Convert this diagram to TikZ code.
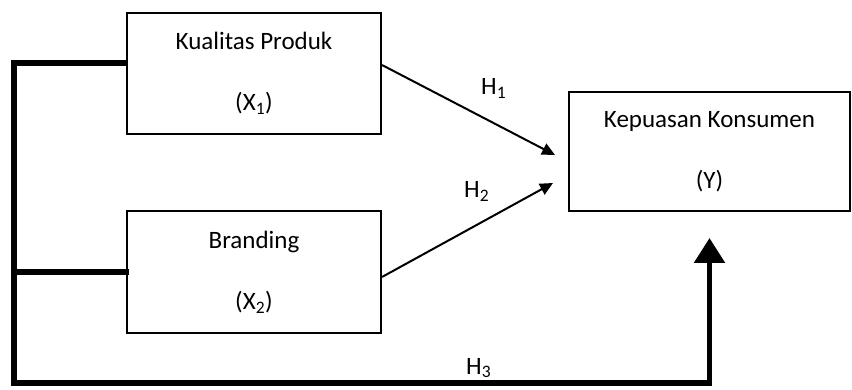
\documentclass[tikz,border=0pt]{standalone}
\usepackage{fontspec}
\setmainfont{Carlito}
\usepackage{tikz}
\usetikzlibrary{arrows.meta, positioning}

\begin{document}
\begin{tikzpicture}[
  x=1pt, y=-1pt,
  var/.style={rectangle, draw, line width=2pt, minimum width=254pt, minimum height=121pt, align=center, inner sep=0pt, font=\fontsize{25}{30}\selectfont},
  hyp/.style={anchor=base west, inner sep=0pt, font=\fontsize{25}{30}\selectfont},
  bus/.style={line width=5.5pt},
  >={Triangle[length=13pt, width=12pt]}
]
\useasboundingbox (0,0) rectangle (852,390);

\node[var] (X1) at (254,73.5) {Kualitas Produk\\[31pt](X\textsubscript{1})};
\node[var] (X2) at (254,272) {Branding\\[31pt](X\textsubscript{2})};
\node[var, minimum width=281pt, minimum height=119pt] (Y) at (709.5,151.5) {Kepuasan Konsumen\\[31pt](Y)};

\coordinate (h1 end) at (555,155);
\coordinate (h2 end) at (553,183);

\draw[->, line width=2pt] ([yshift=8.5pt]X1.east) -- (h1 end);
\draw[->, line width=2pt] ([yshift=-5pt]X2.east) -- (h2 end);

\draw[bus, -{Triangle[length=25pt, width=30pt, sep=6pt]}, shorten >=20pt]
  ([yshift=10.5pt]X1.west) -- ++(-112,0) coordinate (bus top)
  -- (bus top |- 0,383) -| (Y.south);
\draw[bus] (bus top |- X2.west) -- ([xshift=3pt]X2.west);

\node[hyp] (H1) at (481,95) {H\textsubscript{1}};
\node[hyp] (H2) at (464,198) {H\textsubscript{2}};
\node[hyp] (H3) at (466,374) {H\textsubscript{3}};
\end{tikzpicture}
\end{document}
